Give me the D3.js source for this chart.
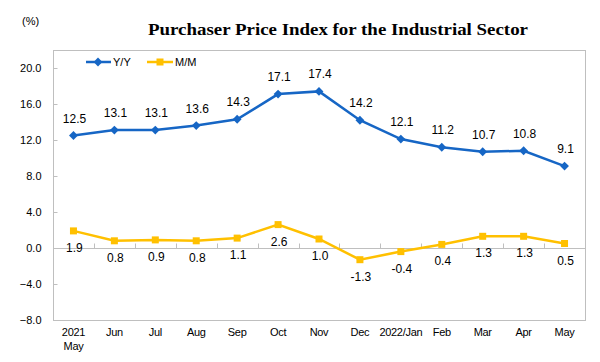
<!DOCTYPE html>
<html>
<head>
<meta charset="utf-8">
<script src="https://cdn.jsdelivr.net/npm/d3@7"></script>
<style>
  body { margin: 0; background: #fff; }
  text { font-family: "Liberation Sans", Arial, sans-serif; fill: #000; }
</style>
</head>
<body>
<div id="chart"></div>
<script>
// categories (second line used for the first label only)
var months = ['2021/May', 'Jun', 'Jul', 'Aug', 'Sep', 'Oct', 'Nov', 'Dec', '2022/Jan', 'Feb', 'Mar', 'Apr', 'May'];
var yoy = [12.5, 13.1, 13.1, 13.6, 14.3, 17.1, 17.4, 14.2, 12.1, 11.2, 10.7, 10.8, 9.1];
var mom = [1.9, 0.8, 0.9, 0.8, 1.1, 2.6, 1.0, -1.3, -0.4, 0.4, 1.3, 1.3, 0.5];
var yTicks = [-8, -4, 0, 4, 8, 12, 16, 20];

var blue = '#1666c5';
var yellow = '#ffc000';
var grey = '#bfbfbf';

var width = 600, height = 362;
var plotLeft = 53, plotRight = 585, plotTop = 50, plotBottom = 320;

var svg = d3.select('#chart').append('svg')
    .attr('width', width)
    .attr('height', height);

var x = d3.scaleBand()
    .domain(d3.range(months.length))
    .range([plotLeft, plotRight])
    .padding(0);

var y = d3.scaleLinear()
    .domain([-8, 22])
    .range([plotBottom, plotTop]);

function cx(i) { return x(i) + x.bandwidth() / 2; }

// title + unit
svg.append('text')
    .attr('x', 148)
    .attr('y', 35)
    .attr('textLength', 380)
    .attr('lengthAdjust', 'spacingAndGlyphs')
    .style('font-family', '"Liberation Serif", "DejaVu Serif", serif')
    .style('font-weight', 'bold')
    .style('font-size', '16px')
    .text('Purchaser Price Index for the Industrial Sector');

svg.append('text')
    .attr('x', 22)
    .attr('y', 25)
    .style('font-size', '11px')
    .text('(%)');

// plot frame
svg.append('rect')
    .attr('x', plotLeft + 0.5)
    .attr('y', plotTop + 0.5)
    .attr('width', plotRight - plotLeft)
    .attr('height', plotBottom - plotTop)
    .style('fill', 'none')
    .style('stroke', grey)
    .style('stroke-width', 1);

// y axis
var yAxis = d3.axisLeft(y)
    .tickValues(yTicks)
    .tickSize(-4)
    .tickPadding(12)
    .tickFormat(d3.format('.1f'));

var gy = svg.append('g')
    .attr('transform', 'translate(' + (plotLeft + 0.5) + ',0)')
    .call(yAxis);
gy.select('.domain').remove();
gy.selectAll('line').attr('stroke', grey);
gy.selectAll('text')
    .style('font-size', '11px')
    .style('font-family', '"Liberation Sans", Arial, sans-serif')
    .attr('fill', '#000');

// zero line with category ticks
var zeroY = Math.round(y(0)) + 0.5;
svg.append('line')
    .attr('x1', plotLeft).attr('x2', plotRight)
    .attr('y1', zeroY).attr('y2', zeroY)
    .style('stroke', grey);

svg.append('g').selectAll('line')
    .data(d3.range(1, months.length))
    .enter()
    .append('line')
    .attr('x1', function (d) { return Math.round(x(d)) + 0.5; })
    .attr('x2', function (d) { return Math.round(x(d)) + 0.5; })
    .attr('y1', zeroY - 5)
    .attr('y2', zeroY)
    .style('stroke', grey);

// category labels
var catG = svg.append('g');
months.forEach(function (m, i) {
    var parts = m === '2021/May' ? ['2021', 'May'] : [m];
    parts.forEach(function (p, j) {
        catG.append('text')
            .attr('x', cx(i))
            .attr('y', 336 + j * 14)
            .attr('text-anchor', 'middle')
            .style('font-family', '"Liberation Sans Narrow", "Liberation Sans", Arial, sans-serif')
            .style('font-size', '11px')
            .style('letter-spacing', '-0.3px')
            .text(p);
    });
});

// lines
var line = d3.line()
    .x(function (d, i) { return cx(i); })
    .y(function (d) { return y(d); });

svg.append('path')
    .datum(mom)
    .attr('d', line)
    .style('fill', 'none')
    .style('stroke', yellow)
    .style('stroke-width', 2.5);

svg.append('path')
    .datum(yoy)
    .attr('d', line)
    .style('fill', 'none')
    .style('stroke', blue)
    .style('stroke-width', 2.5);

// markers
svg.append('g').selectAll('rect')
    .data(mom)
    .enter()
    .append('rect')
    .attr('x', function (d, i) { return cx(i) - 3.5; })
    .attr('y', function (d) { return y(d) - 3.5; })
    .attr('width', 7)
    .attr('height', 7)
    .style('fill', yellow);

var diamond = d3.symbol().type(d3.symbolDiamond2).size(50);
svg.append('g').selectAll('path')
    .data(yoy)
    .enter()
    .append('path')
    .attr('d', diamond)
    .attr('transform', function (d, i) { return 'translate(' + cx(i) + ',' + y(d) + ')'; })
    .style('fill', blue);

// data labels
svg.append('g').selectAll('text')
    .data(yoy)
    .enter()
    .append('text')
    .attr('x', function (d, i) { return cx(i) + 1; })
    .attr('y', function (d) { return y(d) - 13; })
    .attr('text-anchor', 'middle')
    .style('font-size', '12px')
    .text(function (d) { return d.toFixed(1); });

svg.append('g').selectAll('text')
    .data(mom)
    .enter()
    .append('text')
    .attr('x', function (d, i) { return cx(i) + 1; })
    .attr('y', function (d) { return y(d) + 21; })
    .attr('text-anchor', 'middle')
    .style('font-size', '12px')
    .text(function (d) { return d.toFixed(1); });

// legend
var legend = svg.append('g').attr('transform', 'translate(0,62)');
legend.append('line')
    .attr('x1', 86).attr('x2', 111)
    .style('stroke', blue).style('stroke-width', 2.5);
legend.append('path')
    .attr('d', diamond)
    .attr('transform', 'translate(98,0)')
    .style('fill', blue);
legend.append('text')
    .attr('x', 113).attr('y', 4)
    .style('font-size', '11px')
    .text('Y/Y');

legend.append('line')
    .attr('x1', 147).attr('x2', 173)
    .style('stroke', yellow).style('stroke-width', 2.5);
legend.append('rect')
    .attr('x', 156.5).attr('y', -3.5)
    .attr('width', 7).attr('height', 7)
    .style('fill', yellow);
legend.append('text')
    .attr('x', 175).attr('y', 4)
    .style('font-size', '11px')
    .text('M/M');
</script>
</body>
</html>
